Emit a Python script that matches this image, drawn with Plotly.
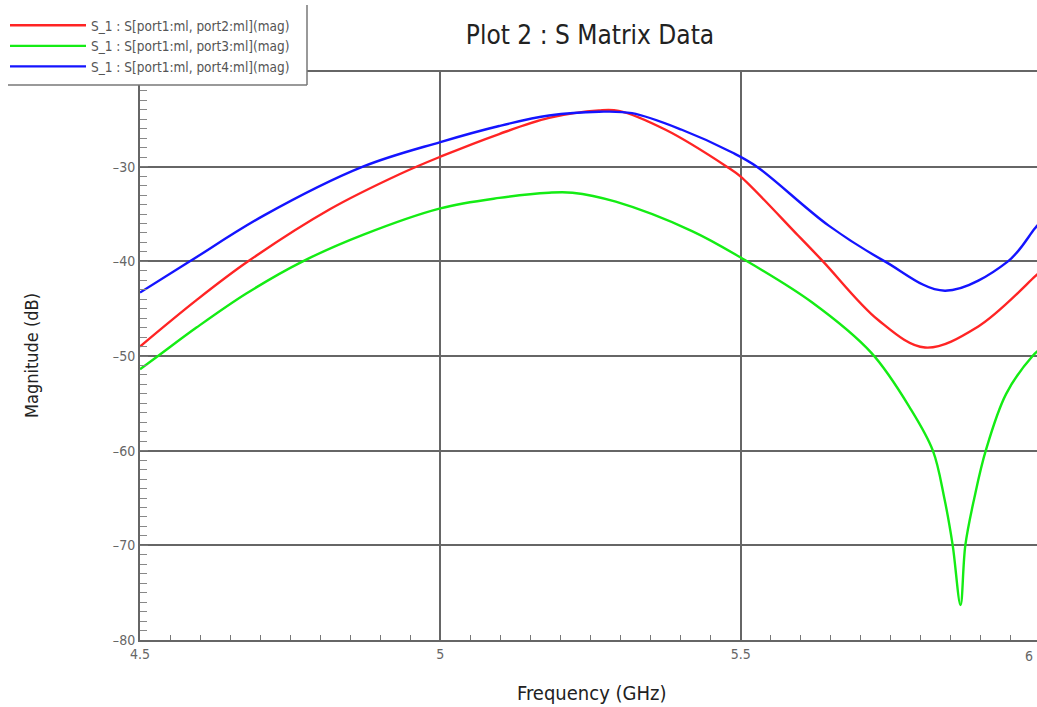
import plotly.graph_objects as go

# ---- data ----
names = [
    "S_1 : S[port1:ml, port2:ml](mag)",
    "S_1 : S[port1:ml, port3:ml](mag)",
    "S_1 : S[port1:ml, port4:ml](mag)",
]
colors = ["#ff2424", "#14ec14", "#1414ff"]

freq_p2 = [4.5, 4.594, 4.680, 4.816, 4.932, 5.0, 5.098, 5.181, 5.264, 5.297,
           5.375, 5.477, 5.5, 5.596, 5.637, 5.729, 5.807, 5.895, 5.990, 6.0]
mag_p2 = [-49.0, -44.1, -40.0, -34.5, -30.8, -28.95, -26.55, -24.85, -24.05, -24.1,
          -26.1, -30.0, -31.05, -37.3, -40.0, -46.2, -49.1, -46.9, -41.6, -41.0]

freq_p3 = [4.5, 4.530, 4.594, 4.677, 4.771, 4.871, 5.0, 5.098, 5.181, 5.22, 5.292,
           5.419, 5.5, 5.618, 5.718, 5.783, 5.820, 5.839, 5.853, 5.866, 5.874,
           5.889, 5.908, 5.942, 5.986, 6.0]
mag_p3 = [-51.4, -50.0, -47.0, -43.4, -40.0, -37.2, -34.4, -33.3, -32.75, -32.75, -33.7,
          -36.8, -39.6, -44.3, -49.7, -55.6, -60.0, -65.0, -70.0, -76.3, -70.0,
          -65.0, -60.0, -54.0, -50.0, -49.2]

freq_p4 = [4.5, 4.583, 4.705, 4.871, 5.0, 5.098, 5.181, 5.264, 5.319, 5.402,
           5.486, 5.527, 5.646, 5.740, 5.840, 5.945, 5.990, 6.0]
mag_p4 = [-43.3, -40.0, -35.2, -30.0, -27.4, -25.7, -24.6, -24.2, -24.35, -26.1,
          -28.5, -30.0, -36.2, -40.0, -43.1, -40.0, -36.5, -35.8]

x_ticks = [4.5, 5, 5.5]
x_ticktext = ["4.5", "5", "5.5"]
x_edge_label = "6"
y_ticks = [-80, -70, -60, -50, -40, -30]
y_ticktext = ["\u201380", "\u201370", "\u201360", "\u201350", "\u201340", "\u201330"]

FONT = "Liberation Sans Narrow, DejaVu Sans Condensed, DejaVu Sans, sans-serif"

W, H = 1041, 707
L, T, B = 140, 72, 67
PW, PH = W - L, H - T - B


def px_x(p):
    return (p - L) / PW


def px_y(p):
    return (H - B - p) / PH


fig = go.Figure()
for f, m, n, c in zip([freq_p2, freq_p3, freq_p4], [mag_p2, mag_p3, mag_p4], names, colors):
    fig.add_trace(go.Scatter(x=f, y=m, name=n, mode="lines",
                             line=dict(color=c, width=2.4, shape="spline", smoothing=1.0)))

fig.update_layout(
    width=W, height=H,
    margin=dict(l=L, r=0, t=T, b=B, autoexpand=False),
    paper_bgcolor="white", plot_bgcolor="white",
    font=dict(family=FONT, color="#333"),
    title=dict(text="Plot 2 : S Matrix Data", x=590 / W, xref="container", xanchor="center",
               y=1 - 35 / H, yanchor="middle", font=dict(size=26, color="#222", family=FONT)),
    showlegend=True,
    legend=dict(xref="container", yref="container", x=5 / W, y=1 - 10 / H,
                xanchor="left", yanchor="top",
                bgcolor="rgba(0,0,0,0)", borderwidth=0,
                font=dict(size=13.5, color="#555", family=FONT), itemwidth=76,
                tracegroupgap=0),
    shapes=[
        dict(type="rect", xref="paper", yref="paper", layer="above",
             x0=px_x(0), x1=px_x(307), y0=px_y(85), y1=px_y(0),
             fillcolor="white", line=dict(width=0)),
        dict(type="line", xref="paper", yref="paper", layer="above",
             x0=px_x(307), x1=px_x(307), y0=px_y(85), y1=px_y(5),
             line=dict(color="#777", width=1.5)),
        dict(type="line", xref="paper", yref="paper", layer="above",
             x0=px_x(8), x1=px_x(307), y0=px_y(85), y1=px_y(85),
             line=dict(color="#777", width=1.5)),
    ],
)

fig.update_xaxes(
    range=[4.5, 6.0], tickvals=x_ticks, ticktext=x_ticktext,
    showgrid=True, gridcolor="#666", gridwidth=1.6,
    showline=True, linecolor="#666", linewidth=2, mirror=True,
    ticks="inside", ticklen=6, tickcolor="#666",
    minor=dict(dtick=0.05, ticks="inside", ticklen=5, tickcolor="#777", showgrid=False),
    tickfont=dict(size=14, color="#666", family=FONT),
    zeroline=False,
)
fig.update_yaxes(
    range=[-80, -20], tickvals=y_ticks, ticktext=y_ticktext,
    showgrid=True, gridcolor="#666", gridwidth=1.6,
    showline=True, linecolor="#666", linewidth=2, mirror=False,
    ticks="inside", ticklen=8, tickcolor="#777",
    minor=dict(dtick=1, ticks="inside", ticklen=7, tickcolor="#888", showgrid=False),
    tickfont=dict(size=14, color="#666", family=FONT),
    zeroline=False,
)

# tick label of 6 GHz sits at the page edge in the reference; keep it fully visible
fig.add_annotation(text=x_edge_label, xref="paper", yref="paper", x=px_x(1035), y=px_y(656),
                   xanchor="right", yanchor="middle", showarrow=False,
                   font=dict(size=14, color="#666", family=FONT))
fig.add_annotation(text="Frequency (GHz)", xref="paper", yref="paper", x=px_x(591), y=px_y(693),
                   xanchor="center", yanchor="middle", showarrow=False,
                   font=dict(size=20, color="#222", family=FONT))
fig.add_annotation(text="Magnitude (dB)", xref="paper", yref="paper", x=px_x(31), y=0.5,
                   xanchor="center", yanchor="middle", showarrow=False, textangle=-90,
                   font=dict(size=18, color="#222", family=FONT))

fig.write_html("out.html", config={"displayModeBar": False},
               post_script="document.body.style.margin='0';document.body.style.overflow='hidden';")
